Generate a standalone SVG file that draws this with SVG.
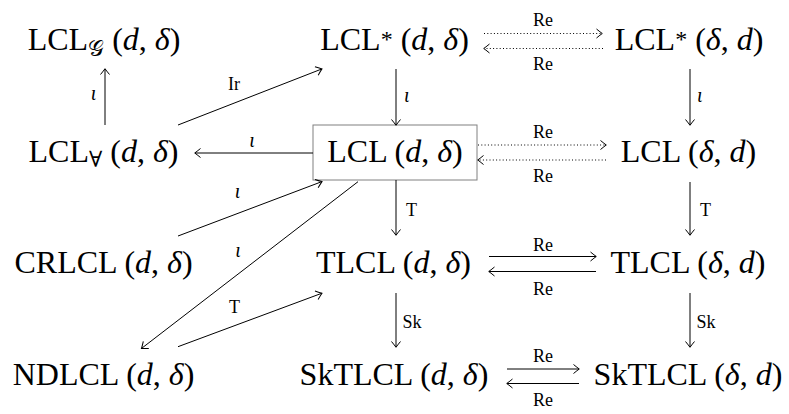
<svg xmlns="http://www.w3.org/2000/svg" width="789" height="414" viewBox="0 0 789 414">
<style>
.n{font-family:"Liberation Serif","DejaVu Serif",serif;font-size:32px;fill:#000;text-anchor:middle}
.l{font-family:"Liberation Serif","DejaVu Serif",serif;font-size:18px;fill:#000}
.c{text-anchor:middle}
.i{font-style:italic;font-size:20px}
.s{font-size:22px}
.e{stroke:#000;stroke-width:1;fill:none;marker-end:url(#ah)}
.d{stroke-dasharray:1 2.3}
</style>
<defs>
<marker id="ah" markerUnits="userSpaceOnUse" viewBox="-8 -6 10 12" markerWidth="10" markerHeight="12" refX="0" refY="0" orient="auto" overflow="visible">
<path d="M-5.5,-4.5 Q-1.5,-1.2 0.3,0 Q-1.5,1.2 -5.5,4.5" fill="none" stroke="#000" stroke-width="1"/>
</marker>
</defs>
<rect width="789" height="414" fill="#fff"/>
<g id="n-lclg"><text class="n" x="104" y="50">LCL<tspan class="s" dy="6">𝒢</tspan><tspan dy="-6"> (</tspan><tspan font-style="italic">d</tspan>, <tspan font-style="italic">δ</tspan>)</text></g>
<g id="n-lclstar-dd"><text class="n" x="394.5" y="50">LCL<tspan font-size="24" dy="-3">*</tspan><tspan dy="3"> (</tspan><tspan font-style="italic">d</tspan>, <tspan font-style="italic">δ</tspan>)</text></g>
<g id="n-lclstar-dd2"><text class="n" x="689" y="50">LCL<tspan font-size="24" dy="-3">*</tspan><tspan dy="3"> (</tspan><tspan font-style="italic">δ</tspan>, <tspan font-style="italic">d</tspan>)</text></g>
<g id="n-lclall"><text class="n" x="103.5" y="161.5">LCL<tspan class="s" dy="5">∀</tspan><tspan dy="-5"> (</tspan><tspan font-style="italic">d</tspan>, <tspan font-style="italic">δ</tspan>)</text></g>
<g id="n-lcl"><rect x="313" y="125" width="164" height="55" fill="none" stroke="#808080" stroke-width="1"/><text class="n" x="395" y="161.5">LCL (<tspan font-style="italic">d</tspan>, <tspan font-style="italic">δ</tspan>)</text></g>
<g id="n-lcl2"><text class="n" x="688.5" y="161.5">LCL (<tspan font-style="italic">δ</tspan>, <tspan font-style="italic">d</tspan>)</text></g>
<g id="n-crlcl"><text class="n" x="103.5" y="273">CRLCL (<tspan font-style="italic">d</tspan>, <tspan font-style="italic">δ</tspan>)</text></g>
<g id="n-tlcl"><text class="n" x="393.5" y="273">TLCL (<tspan font-style="italic">d</tspan>, <tspan font-style="italic">δ</tspan>)</text></g>
<g id="n-tlcl2"><text class="n" x="688" y="273">TLCL (<tspan font-style="italic">δ</tspan>, <tspan font-style="italic">d</tspan>)</text></g>
<g id="n-ndlcl"><text class="n" x="103.5" y="385">NDLCL (<tspan font-style="italic">d</tspan>, <tspan font-style="italic">δ</tspan>)</text></g>
<g id="n-sktlcl"><text class="n" x="394" y="385">SkTLCL (<tspan font-style="italic">d</tspan>, <tspan font-style="italic">δ</tspan>)</text></g>
<g id="n-sktlcl2"><text class="n" x="688" y="385">SkTLCL (<tspan font-style="italic">δ</tspan>, <tspan font-style="italic">d</tspan>)</text></g>
<g id="connectors">
<path class="e" d="M105,125V69"/>
<path class="e" d="M178,125L321.7,69"/>
<path class="e" d="M313,153H195"/>
<path class="e" d="M396,69V125"/>
<path class="e" d="M690,69V125"/>
<path class="e d" d="M484,33.5H602"/>
<path class="e d" d="M603,48.5H484"/>
<path class="e d" d="M478,145H606"/>
<path class="e d" d="M606,160H478"/>
<path class="e" d="M396,180V235"/>
<path class="e" d="M690,182V235"/>
<path class="e" d="M489,256.5H596"/>
<path class="e" d="M596,271.5H489"/>
<path class="e" d="M396,293V347"/>
<path class="e" d="M690,293V347"/>
<path class="e" d="M507,369H579"/>
<path class="e" d="M579,383.5H507"/>
<path class="e" d="M178,236L321.7,181.7"/>
<path class="e" d="M358,181.7L141.7,348.3"/>
<path class="e" d="M178,346.7L321.7,293.3"/>
<text class="l c i" x="93.5" y="100">ι</text>
<text class="l c" x="234" y="90">Ir</text>
<text class="l c i" x="252" y="147">ι</text>
<text class="l i" x="404" y="102">ι</text>
<text class="l i" x="697" y="102">ι</text>
<text class="l c" x="543" y="26">Re</text>
<text class="l c" x="543" y="70">Re</text>
<text class="l c" x="543" y="138">Re</text>
<text class="l c" x="543" y="181.5">Re</text>
<text class="l" x="406" y="216">T</text>
<text class="l" x="700" y="216">T</text>
<text class="l c" x="543" y="251">Re</text>
<text class="l c" x="543" y="295">Re</text>
<text class="l" x="402.5" y="328">Sk</text>
<text class="l" x="696.5" y="328">Sk</text>
<text class="l c" x="543" y="361.5">Re</text>
<text class="l c" x="543" y="406">Re</text>
<text class="l c i" x="237.5" y="198">ι</text>
<text class="l c i" x="238" y="257">ι</text>
<text class="l c" x="234.5" y="312.5">T</text>
</g>
</svg>
